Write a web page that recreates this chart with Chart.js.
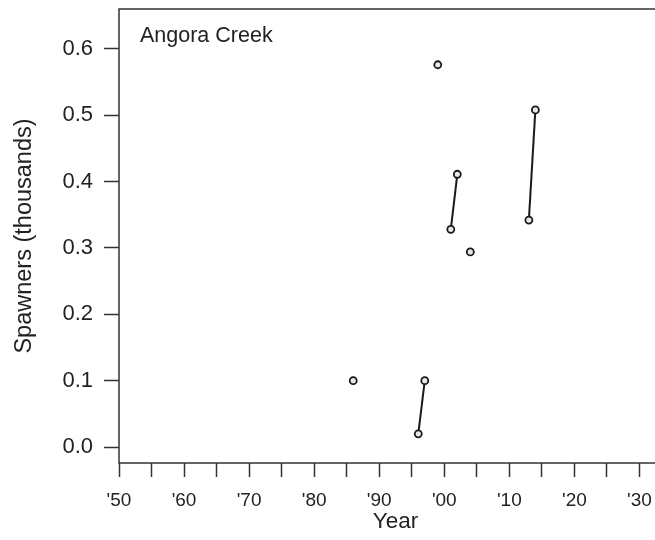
<!DOCTYPE html>
<html>
<head>
<meta charset="utf-8">
<script src="https://cdn.jsdelivr.net/npm/chart.js@4/dist/chart.umd.min.js"></script>
<style>
  html, body { margin: 0; padding: 0; background: #fff; overflow: hidden; }
  #wrap { width: 680px; height: 540px; }
</style>
</head>
<body>
<div id="wrap"><canvas id="myChart" width="680" height="540"></canvas></div>
<script>
  // survey years and spawner counts (thousands)
  let years = [1986, 1996, 1997, 1999, 2001, 2002, 2004, 2013, 2014];
  let spawners = [0.100, 0.020, 0.100, 0.576, 0.328, 0.411, 0.294, 0.342, 0.508];

  let xTickYears = [1950, 1955, 1960, 1965, 1970, 1975, 1980, 1985, 1990, 1995,
                    2000, 2005, 2010, 2015, 2020, 2025, 2030, 2035];
  let xTickLabels = ["'50", "'60", "'70", "'80", "'90", "'00", "'10", "'20", "'30", "'40"];
  let yTicks = [0, 0.1, 0.2, 0.3, 0.4, 0.5, 0.6];

  const FONT = "'Liberation Sans', Arial, Helvetica, sans-serif";
  const INK = '#222222';

  // consecutive years are joined by a line, others stay single points
  let runs = [];
  for (let i = 0; i < years.length; i++) {
      if (i > 0 && years[i] - years[i - 1] === 1) {
          runs[runs.length - 1].push({ x: years[i], y: spawners[i] });
      } else {
          runs.push([{ x: years[i], y: spawners[i] }]);
      }
  }

  let datasets = runs.map(run => ({
      data: run,
      showLine: true,
      borderColor: '#1a1a1a',
      borderWidth: 2,
      pointRadius: 3.5,
      pointBorderWidth: 1.8,
      pointBorderColor: '#1a1a1a',
      pointBackgroundColor: '#e8e8e8',
      backgroundColor: '#e8e8e8'
  }));

  const boxPlugin = {
      id: 'box',
      afterDraw(chart) {
          const a = chart.chartArea;
          const c = chart.ctx;
          c.save();
          c.strokeStyle = '#333333';
          c.lineWidth = 1.5;
          c.strokeRect(a.left, a.top, a.right - a.left, a.bottom - a.top);
          c.fillStyle = INK;
          c.font = '21.5px ' + FONT;
          c.textBaseline = 'middle';
          c.textAlign = 'left';
          c.fillText('Angora Creek', a.left + 21, 36);
          c.restore();
      }
  };

  function noPad(scale) {
      scale.paddingTop = 0;
      scale.paddingBottom = 0;
      scale.paddingLeft = 0;
      scale.paddingRight = 0;
  }

  let ctx = document.getElementById("myChart").getContext('2d');
  let myChart = new Chart(ctx, {
      type: 'scatter',
      data: { datasets: datasets },
      plugins: [boxPlugin],
      options: {
          responsive: false,
          animation: false,
          layout: { padding: { top: 9, right: 8, bottom: 0, left: 0 } },
          plugins: {
              legend: { display: false },
              tooltip: { enabled: false }
          },
          scales: {
              x: {
                  type: 'linear',
                  min: 1950,
                  max: 2035,
                  afterBuildTicks: function (scale) {
                      scale.ticks = xTickYears.map(v => ({ value: v }));
                  },
                  afterFit: function (scale) {
                      scale.height = 77;
                      noPad(scale);
                  },
                  grid: {
                      drawOnChartArea: false,
                      tickLength: 14,
                      tickWidth: 1.5,
                      tickColor: '#333333'
                  },
                  border: { display: false },
                  ticks: {
                      autoSkip: false,
                      maxRotation: 0,
                      padding: 12,
                      color: INK,
                      font: { family: FONT, size: 19, lineHeight: 1.2 },
                      callback: function (value) {
                          if (value % 10 !== 0) return '';
                          return xTickLabels[(value - 1950) / 10];
                      }
                  },
                  title: {
                      display: true,
                      text: 'Year',
                      color: INK,
                      font: { family: FONT, size: 22.5, lineHeight: 1.2 },
                      padding: { top: 0, bottom: 5 }
                  }
              },
              y: {
                  min: -0.024,
                  max: 0.66,
                  afterBuildTicks: function (scale) {
                      scale.ticks = yTicks.map(v => ({ value: v }));
                  },
                  afterFit: function (scale) {
                      scale.width = 119;
                      noPad(scale);
                  },
                  grid: {
                      drawOnChartArea: false,
                      tickLength: 15,
                      tickWidth: 1.5,
                      tickColor: '#333333'
                  },
                  border: { display: false },
                  ticks: {
                      padding: 11,
                      color: INK,
                      font: { family: FONT, size: 22, lineHeight: 1.2 },
                      callback: function (value) {
                          return value.toFixed(1);
                      }
                  },
                  title: {
                      display: true,
                      text: 'Spawners (thousands)',
                      color: INK,
                      font: { family: FONT, size: 23.5, lineHeight: 1.2 },
                      padding: { top: 10, bottom: 0 }
                  }
              }
          }
      }
  });
</script>
</body>
</html>
